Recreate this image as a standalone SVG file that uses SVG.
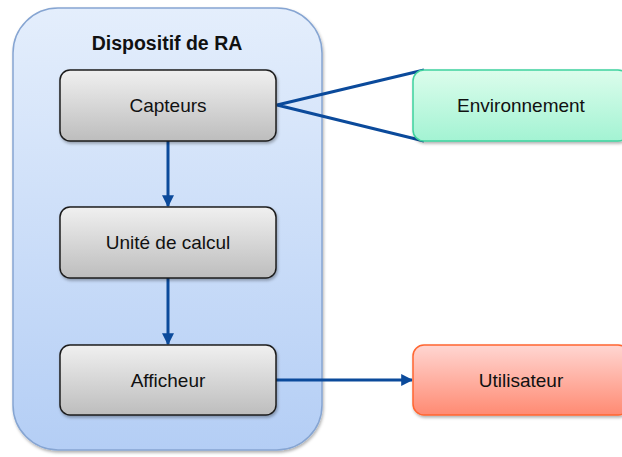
<svg xmlns="http://www.w3.org/2000/svg" width="622" height="457" viewBox="0 0 622 457">
<defs>
<linearGradient id="gCont" x1="0" y1="0" x2="0" y2="1"><stop offset="0" stop-color="#e4eefc"/><stop offset="1" stop-color="#b4cef5"/></linearGradient>
<linearGradient id="gGray" x1="0" y1="0" x2="0" y2="1"><stop offset="0" stop-color="#f0f0f0"/><stop offset="1" stop-color="#bdbdbd"/></linearGradient>
<linearGradient id="gGreen" x1="0" y1="0" x2="0" y2="1"><stop offset="0" stop-color="#dcfdec"/><stop offset="1" stop-color="#a3f3d3"/></linearGradient>
<linearGradient id="gRed" x1="0" y1="0" x2="0" y2="1"><stop offset="0" stop-color="#ffd6d2"/><stop offset="1" stop-color="#ff8a72"/></linearGradient>
<filter id="sh" x="-10%" y="-10%" width="130%" height="140%"><feDropShadow dx="1" dy="2" stdDeviation="1.5" flood-color="#000" flood-opacity="0.3"/></filter>
<marker id="ah" viewBox="0 0 10 10" refX="9" refY="5" markerWidth="4" markerHeight="4" orient="auto" markerUnits="strokeWidth"><path d="M0,0 L10,5 L0,10 z" fill="#0b4a9b"/></marker>
<style>
.lbl{font-family:"Liberation Sans",Arial,sans-serif;font-size:19px;fill:#111;text-anchor:middle;dominant-baseline:central}
.title{font-family:"Liberation Sans",Arial,sans-serif;font-size:19.5px;font-weight:bold;fill:#111;text-anchor:middle}
.gray{fill:url(#gGray);stroke:#1e1e1e;stroke-width:1.5}
.conn{stroke:#0b4a9b;stroke-width:3;fill:none}
</style>
</defs>
<g id="container">
<rect x="13" y="8" width="309" height="442" rx="45" ry="45" fill="url(#gCont)" stroke="#86a5d2" stroke-width="1.5" filter="url(#sh)"/>
<text class="title" x="167" y="50">Dispositif de RA</text>
</g>
<g id="connectors">
<polyline class="conn" points="424,70 277,105 424,141"/>
<line class="conn" x1="168" y1="141" x2="168" y2="206" marker-end="url(#ah)"/>
<line class="conn" x1="168" y1="278" x2="168" y2="344" marker-end="url(#ah)"/>
<line class="conn" x1="276" y1="380" x2="412" y2="380" marker-end="url(#ah)"/>
</g>
<g id="capteurs">
<rect class="gray" x="60" y="70" width="216" height="71" rx="10" filter="url(#sh)"/>
<text class="lbl" x="168" y="105">Capteurs</text>
</g>
<g id="unite">
<rect class="gray" x="60" y="207" width="216" height="71" rx="10" filter="url(#sh)"/>
<text class="lbl" x="168" y="242">Unité de calcul</text>
</g>
<g id="afficheur">
<rect class="gray" x="60" y="345" width="216" height="70" rx="10" filter="url(#sh)"/>
<text class="lbl" x="168" y="380">Afficheur</text>
</g>
<g id="environnement">
<rect x="413" y="70" width="216" height="71" rx="11" fill="url(#gGreen)" stroke="#3fd29e" stroke-width="1.5" filter="url(#sh)"/>
<text class="lbl" x="521" y="105">Environnement</text>
</g>
<g id="utilisateur">
<rect x="413" y="345" width="216" height="70" rx="11" fill="url(#gRed)" stroke="#ff6630" stroke-width="1.5" filter="url(#sh)"/>
<text class="lbl" x="521" y="380">Utilisateur</text>
</g>
</svg>
